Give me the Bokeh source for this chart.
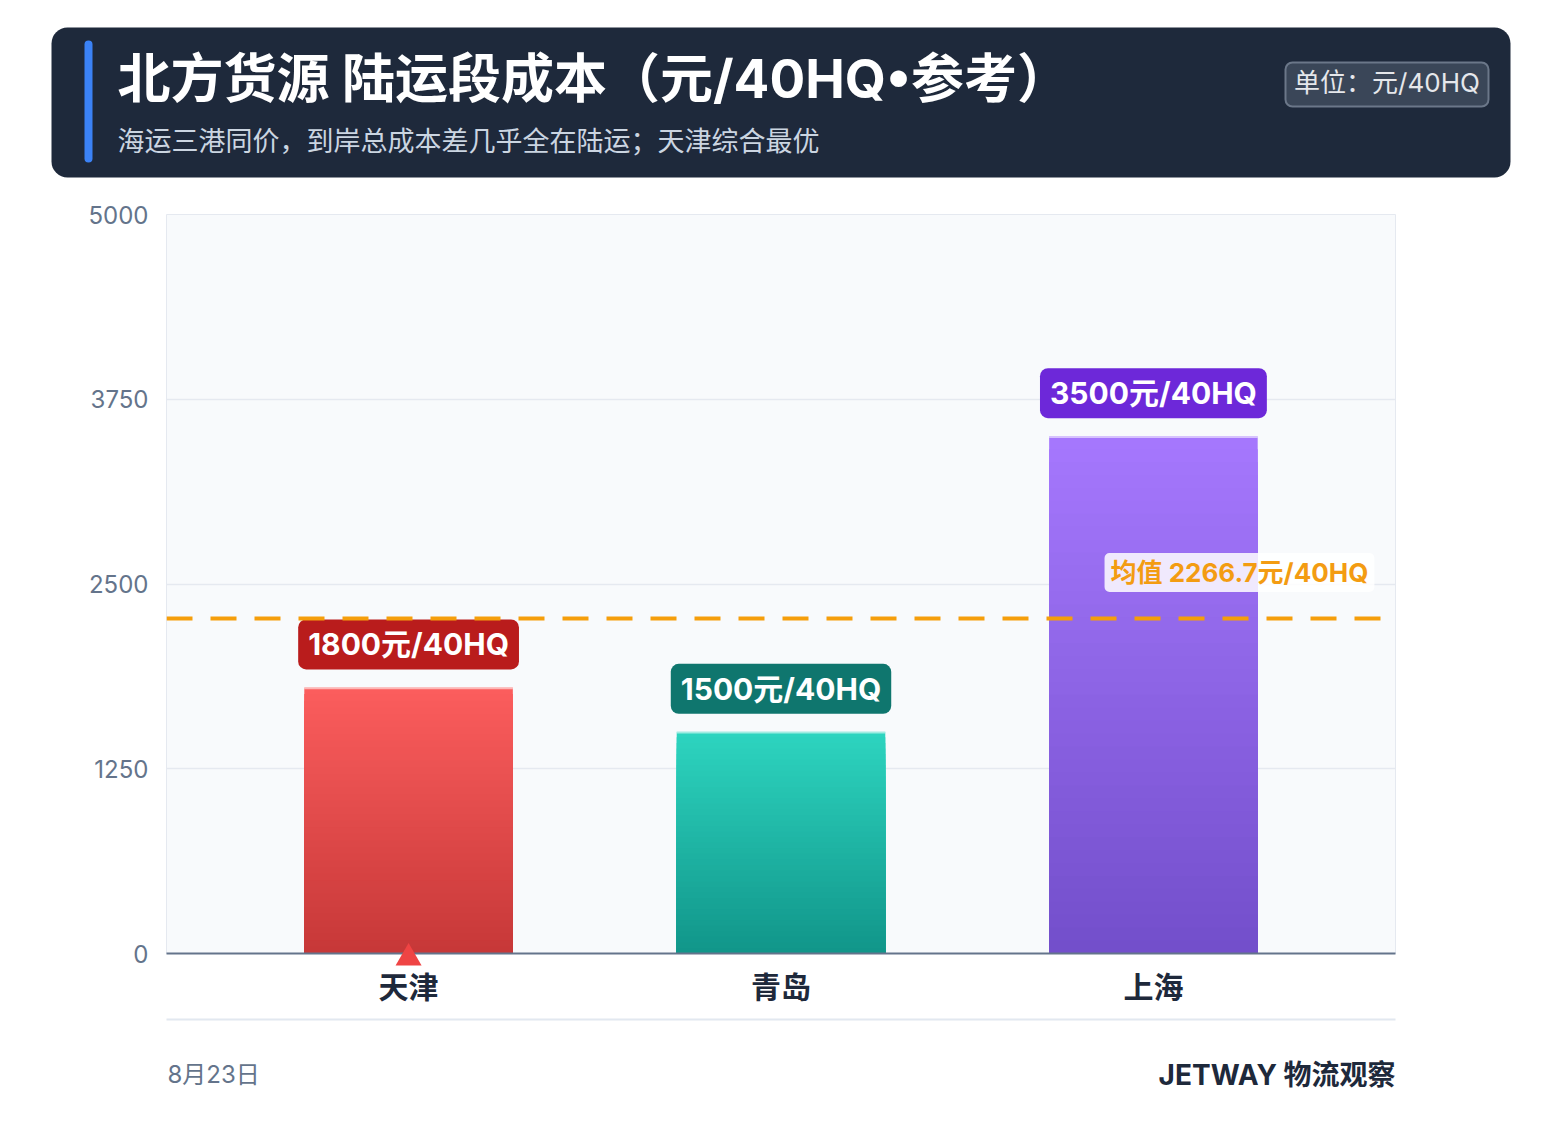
from bokeh.plotting import figure
from bokeh.models import ColumnDataSource, Range1d, FactorRange, FixedTicker, Span
from bokeh.layouts import column
from bokeh.embed import file_html
from bokeh.resources import INLINE
from bokeh.core.properties import value

# ---------------- data ----------------
title = "北方货源 陆运段成本（元/40HQ•参考）"
subtitle = "海运三港同价，到岸总成本差几乎全在陆运；天津综合最优"
unit_text = "单位：元/40HQ"
ports = ["天津", "青岛", "上海"]
land_cost = [1800, 1500, 3500]
y_ticks = [0, 1250, 2500, 3750, 5000]
best_port = "天津"
date_text = "8月23日"
brand_text = "JETWAY 物流观察"
bar_top_colors = ["#fb5d5d", "#2dd4bf", "#a577fd"]
bar_bottom_colors = ["#c73838", "#11968a", "#734fcb"]
label_colors = ["#b91c1c", "#0f766e", "#6d28d9"]

mean_cost = sum(land_cost) / len(land_cost)

W = 1545
FONT = "Inter, Noto Sans CJK SC"
Y_MAX = 5000
FRAME_H = 739


def lerp_color(c0, c1, t):
    a = [int(c0[i:i + 2], 16) for i in (1, 3, 5)]
    b = [int(c1[i:i + 2], 16) for i in (1, 3, 5)]
    return "#%02x%02x%02x" % tuple(round(a[j] + (b[j] - a[j]) * t) for j in range(3))


def bare(fig):
    fig.axis.visible = False
    fig.grid.visible = False
    fig.outline_line_color = None
    fig.background_fill_color = "white"
    fig.border_fill_color = "white"


# ---------------- header ----------------
hdr = figure(width=W, height=190, x_range=Range1d(0, W), y_range=Range1d(190, 0),
             output_backend="svg", toolbar_location=None, min_border=0, frame_align=False)
bare(hdr)
hdr.quad(left=43, right=1502, top=19, bottom=169, fill_color="#1e293b",
         line_color=None, border_radius=16)
hdr.quad(left=76, right=84, top=32, bottom=154, fill_color="#3b82f6",
         line_color=None, border_radius=4)
hdr.text(x=[109], y=[70], text=[title], text_font=value(FONT), text_font_size="53px",
         text_font_style="bold", text_color="white", text_baseline="middle", text_align="left")
hdr.text(x=[109], y=[133], text=[subtitle], text_font=value(FONT), text_font_size="27px",
         text_color="#cbd5e1", text_baseline="middle", text_align="left")
hdr.quad(left=1277, right=1480, top=54, bottom=98, fill_color="#3a4658",
         line_color="#6b7789", line_width=2, border_radius=7)
hdr.text(x=[1378.5], y=[74], text=[unit_text], text_font=value(FONT), text_font_size="26px",
         text_color="#e5e7eb", text_baseline="middle", text_align="center")

# ---------------- main chart ----------------
p = figure(width=W, height=16 + FRAME_H + 60, x_range=FactorRange(factors=ports, range_padding=0.1),
           y_range=Range1d(0, Y_MAX), output_backend="svg", toolbar_location=None,
           min_border_left=158, min_border_right=158, min_border_top=16, min_border_bottom=60,
           frame_align=False)
p.background_fill_color = "#f8fafc"
p.border_fill_color = "white"
p.outline_line_color = "#e5e9f0"

# gradient bars (stacked shrinking layers)
N = 40
gx, gtop, gcol = [], [], []
for k in range(N):
    t = k / (N - 1)
    for port, v, c0, c1 in zip(ports, land_cost, bar_top_colors, bar_bottom_colors):
        gx.append(port)
        gtop.append(v * (1 - k / N))
        gcol.append(lerp_color(c0, c1, t))
p.vbar(x=gx, top=gtop, bottom=0, width=0.56, fill_color=gcol, line_color=None)
p.vbar(x=ports, top=land_cost, bottom=[v - 12 for v in land_cost], width=0.56,
       fill_color="white", fill_alpha=0.55, line_color=None)

# mean line
p.add_layout(Span(location=mean_cost, dimension="width", line_color="#f59e0b",
                  line_width=4, line_dash="26 18"))

# value labels
lab_src = ColumnDataSource(dict(x=ports, y=land_cost,
                                text=[f"{v}元/40HQ" for v in land_cost], bg=label_colors))
p.text(x="x", y="y", text="text", source=lab_src, text_font=value(FONT),
       text_font_size="30px", text_font_style="bold", text_color="white",
       text_align="center", text_baseline="middle", y_offset=-43,
       background_fill_color="bg", border_radius=8,
       padding=dict(left=10, right=10, top=7, bottom=7))

# mean label
p.text(x=[ports[-1]], y=[mean_cost], text=[f"均值 {mean_cost:.1f}元/40HQ"],
       text_font=value(FONT), text_font_size="26px", text_font_style="bold",
       text_color="#f39c12", text_align="right", text_baseline="middle",
       x_offset=221, y_offset=-46, background_fill_color="white",
       background_fill_alpha=0.85, border_radius=5,
       padding=dict(left=6, right=6, top=4, bottom=4))

# best marker (triangle centred a little below the baseline)
drop = 4.5 * Y_MAX / FRAME_H
p.scatter(x=[best_port], y=[-drop], marker="triangle", size=26, fill_color="#ef4444",
          line_color=None, level="overlay")

# axes
p.xgrid.visible = False
p.ygrid.ticker = FixedTicker(ticks=y_ticks)
p.ygrid.grid_line_color = "#e5e9f0"
p.ygrid.grid_line_width = 1.5
p.yaxis.ticker = FixedTicker(ticks=y_ticks)
p.yaxis.axis_line_color = None
p.yaxis.major_tick_line_color = None
p.yaxis.minor_tick_line_color = None
p.yaxis.major_tick_out = 0
p.yaxis.major_label_standoff = 18
p.yaxis.major_label_text_font = FONT
p.yaxis.major_label_text_font_size = "24px"
p.yaxis.major_label_text_color = "#64748b"
p.xaxis.axis_line_color = "#64748b"
p.xaxis.axis_line_width = 2
p.xaxis.major_tick_line_color = None
p.xaxis.major_tick_out = 0
p.xaxis.major_label_standoff = 15
p.xaxis.major_label_text_font = FONT
p.xaxis.major_label_text_font_size = "30px"
p.xaxis.major_label_text_font_style = "bold"
p.xaxis.major_label_text_color = "#1e293b"

# ---------------- footer ----------------
ftr = figure(width=W, height=110, x_range=Range1d(0, W), y_range=Range1d(110, 0),
             output_backend="svg", toolbar_location=None, min_border=0, frame_align=False)
bare(ftr)
ftr.segment(x0=[158], y0=[6], x1=[1387], y1=[6], line_color="#e2e8f0", line_width=2)
ftr.text(x=[159], y=[61], text=[date_text], text_font=value(FONT), text_font_size="24px",
         text_color="#64748b", text_align="left", text_baseline="middle")
ftr.text(x=[1387], y=[61], text=[brand_text], text_font=value(FONT), text_font_size="28px",
         text_font_style="bold", text_color="#1e293b", text_align="right", text_baseline="middle")

layout = column(hdr, p, ftr, spacing=0, margin=(8, 0, 0, 8))
open("out.html", "w").write(file_html(layout, INLINE))
